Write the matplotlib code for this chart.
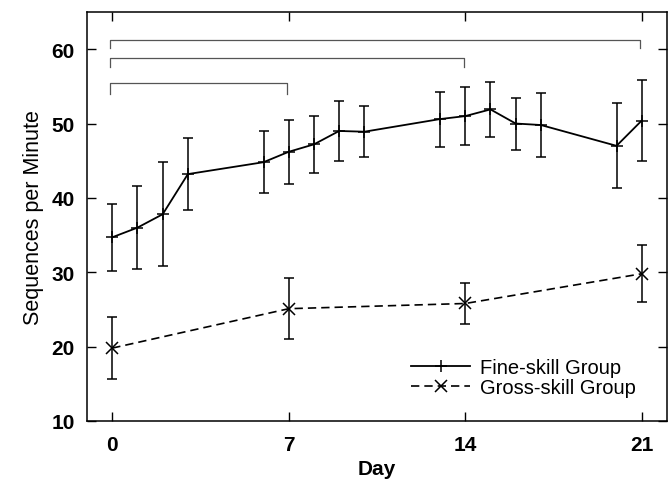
import matplotlib.pyplot as plt

plt.rcParams["font.family"] = ["Liberation Sans", "DejaVu Sans"]

# fine-skill group, daily sessions
fine_days = [0, 1, 2, 3, 6, 7, 8, 9, 10, 13, 14, 15, 16, 17, 20, 21]
fine_mean = [34.7, 36.0, 37.8, 43.2, 44.8, 46.2, 47.2, 49.0, 48.9,
             50.6, 51.0, 51.9, 50.0, 49.8, 47.0, 50.4]
fine_err = [4.5, 5.6, 7.0, 4.8, 4.2, 4.3, 3.8, 4.0, 3.4,
            3.7, 3.9, 3.7, 3.5, 4.3, 5.7, 5.4]

# gross-skill group, weekly
gross_days = [0, 7, 14, 21]
gross_mean = [19.8, 25.1, 25.8, 29.8]
gross_err = [4.2, 4.1, 2.7, 3.8]

# significance brackets: start day, end day, bar level, leg end level
br_start = [0, 0, 0]
br_end = [7, 14, 21]
br_top = [55.4, 58.8, 61.2]
br_leg = [54.0, 57.6, 60.1]

fig = plt.figure(figsize=(6.72, 4.81), dpi=100)
ax = fig.add_axes([0.1295, 0.1227, 0.863, 0.8503])

ax.errorbar(fine_days, fine_mean, yerr=fine_err, color="black", lw=1.3,
            marker="+", ms=9, mew=1.1, capsize=3.5, elinewidth=1.1,
            capthick=1.1, label="Fine-skill Group")
ax.errorbar(gross_days, gross_mean, yerr=gross_err, color="black", lw=1.2,
            ls=(0, (5, 3)), marker="x", ms=9, mew=1.1, capsize=3.5,
            elinewidth=1.1, capthick=1.1, label="Gross-skill Group")

for s, e, t, l in zip(br_start, br_end, br_top, br_leg):
    ax.plot([s - 0.1, s - 0.1, e - 0.05, e - 0.05], [l, t, t, l],
            color="#555555", lw=0.9)

ax.set_xlim(-1, 22)
ax.set_ylim(10, 65)
ax.set_xticks([0, 7, 14, 21])
ax.set_yticks([10, 20, 30, 40, 50, 60])
ax.tick_params(direction="in", length=6.5, width=1, top=True, right=True,
               labelsize=15)
ax.tick_params(axis="y", pad=9)
ax.tick_params(axis="x", pad=10)
for lab in ax.get_xticklabels() + ax.get_yticklabels():
    lab.set_fontweight("bold")

ax.set_xlabel("Day", fontsize=15, fontweight="bold", labelpad=4)
ax.set_ylabel("Sequences per Minute", fontsize=15.5, labelpad=5)

handles, labels = ax.get_legend_handles_labels()
handles = [h[0] for h in handles]
ax.legend(handles, labels, loc="lower right", frameon=False, fontsize=14.5,
          handlelength=2.9, handletextpad=0.5, labelspacing=0.02,
          bbox_to_anchor=(0.96, 0.04), borderaxespad=0)

for sp in ax.spines.values():
    sp.set_linewidth(1.1)

fig.savefig("out.png", dpi=100)
